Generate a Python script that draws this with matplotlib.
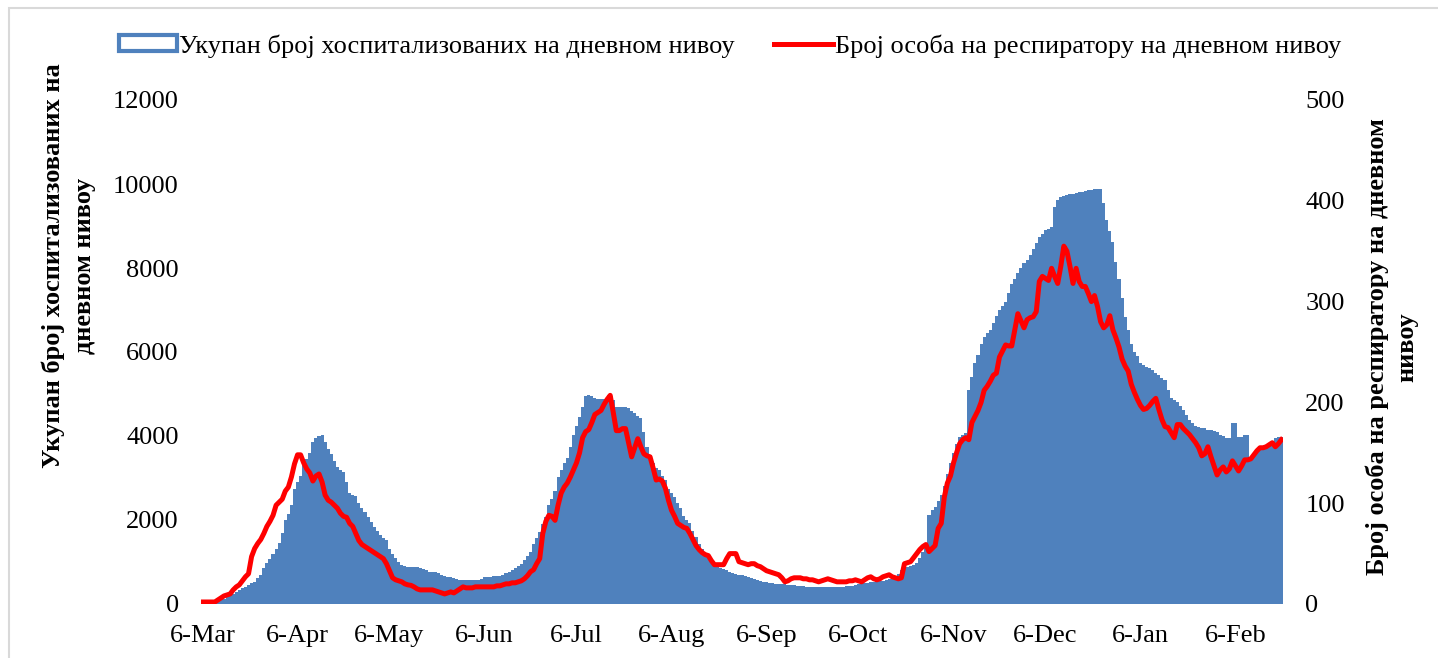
import pandas as pd
import matplotlib
matplotlib.use("Agg")
from matplotlib import pyplot as plt
from matplotlib.patches import Patch, Rectangle
from matplotlib.lines import Line2D

plt.rcParams['font.family'] = ['Liberation Serif', 'DejaVu Serif']

# daily values, first day 6-Mar-2020
hospitalized = [
    10, 15, 20, 30, 50, 70, 90, 130, 170, 210,
    250, 290, 330, 370, 410, 450, 490, 520, 620, 700,
    850, 970, 1080, 1200, 1300, 1450, 1700, 2000, 2150, 2350,
    2750, 2900, 3050, 3350, 3450, 3600, 3850, 3950, 4000, 4020,
    3850, 3700, 3580, 3400, 3270, 3200, 3150, 2900, 2640, 2600,
    2560, 2400, 2280, 2180, 2080, 1950, 1840, 1740, 1640, 1580,
    1520, 1300, 1200, 1100, 1000, 930, 900, 890, 890, 880,
    880, 860, 840, 800, 770, 760, 755, 740, 700, 660,
    650, 640, 620, 600, 580, 575, 570, 565, 570, 570,
    575, 600, 640, 650, 650, 655, 660, 670, 700, 730,
    760, 800, 850, 900, 960, 1050, 1150, 1250, 1420, 1560,
    1720, 1900, 2080, 2350, 2500, 2680, 3030, 3200, 3350, 3470,
    3750, 4030, 4250, 4450, 4700, 4960, 4980, 4950, 4900, 4890,
    4880, 4870, 4880, 4860, 4850, 4700, 4690, 4690, 4680, 4660,
    4600, 4540, 4480, 4420, 4100, 3750, 3500, 3350, 3250, 3190,
    3050, 2950, 2750, 2650, 2550, 2400, 2280, 2100, 2000, 1920,
    1750, 1600, 1420, 1300, 1200, 1100, 1000, 940, 880, 860,
    830, 800, 770, 740, 710, 690, 680, 660, 640, 620,
    590, 560, 550, 530, 515, 505, 495, 485, 475, 470,
    465, 460, 455, 450, 440, 430, 420, 410, 400, 395,
    395, 395, 395, 395, 397, 398, 400, 405, 410, 415,
    420, 430, 440, 450, 465, 480, 495, 505, 515, 525,
    540, 550, 555, 575, 600, 625, 650, 720, 800, 850,
    880, 910, 940, 970, 1100, 1250, 1370, 2120, 2240, 2300,
    2450, 2600, 2800, 3100, 3350, 3600, 3800, 3980, 4030, 4060,
    5100, 5400, 5730, 5930, 6200, 6360, 6450, 6520, 6700, 6850,
    7000, 7100, 7200, 7400, 7630, 7750, 7870, 8000, 8110, 8200,
    8310, 8460, 8600, 8740, 8820, 8900, 8930, 8980, 9460, 9620,
    9680, 9720, 9740, 9760, 9770, 9780, 9800, 9820, 9840, 9850,
    9860, 9870, 9870, 9870, 9540, 9140, 8870, 8630, 8150, 7750,
    7280, 6840, 6520, 6200, 6000, 5900, 5730, 5690, 5650, 5610,
    5570, 5510, 5450, 5390, 5330, 5100, 4900, 4860, 4820, 4720,
    4620, 4500, 4380, 4300, 4240, 4220, 4200, 4180, 4150, 4140,
    4120, 4100, 4030, 4000, 3950, 3950, 4300, 4300, 3980, 3980,
    4020, 4020, 3480, 3550, 3650, 3700, 3740, 3750, 3780, 3820,
    3950, 3980, 3980,
]

respirator = [
    2, 2, 2, 2, 2, 4, 6, 8, 9, 10,
    14, 17, 19, 23, 27, 30, 47, 55, 60, 64,
    70, 77, 82, 88, 98, 101, 104, 112, 116, 126,
    139, 148, 148, 140, 134, 130, 122, 127, 129, 121,
    108, 103, 101, 98, 95, 90, 87, 86, 80, 77,
    70, 63, 59, 57, 55, 53, 51, 49, 47, 45,
    40, 33, 26, 24, 23, 22, 20, 19, 18.5, 17,
    15, 14, 14, 14, 14, 14, 13, 12, 11, 10,
    11, 12, 11, 13, 15, 17, 16, 16, 16, 17,
    17, 17, 17, 17, 17, 17, 18, 18, 19, 20,
    20, 21, 21, 22, 23, 25, 28, 32, 34, 40,
    45, 70, 82, 88, 87, 83, 98, 110, 116, 120,
    126, 133, 140, 150, 165, 171, 173, 180, 188, 190,
    192, 198, 203, 207, 190, 172, 172, 174, 174, 160,
    146, 155, 164, 156, 149, 147, 146, 135, 123, 124,
    122, 115, 103, 93, 87, 80, 78, 76, 75, 70,
    64, 58, 54, 51, 49, 48, 43, 39, 39, 39,
    39, 45, 50, 50, 50, 42, 41, 40, 39, 40,
    40, 38, 37, 35, 33, 32, 31, 30, 29, 26,
    22, 23, 25, 26, 26, 26, 25, 25, 24, 24,
    23, 22, 23, 24, 25, 24, 23, 22, 22, 22,
    22, 23, 23, 24, 23, 22, 24, 26, 27, 25,
    24, 25, 27, 28, 29, 27, 26, 25, 26, 40,
    41, 42, 46, 50, 54, 57, 59, 52, 55, 58,
    75, 80, 106, 120, 127, 140, 150, 159, 163, 165,
    163, 180, 186, 192, 200, 212, 216, 221, 227, 229,
    245, 251, 257, 256, 256, 272, 288, 281, 274, 282,
    284, 285, 290, 320, 325, 323, 321, 333, 325, 318,
    335, 355, 350, 335, 318, 333, 320, 315, 315, 308,
    300, 306, 295, 280, 274, 277, 286, 272, 264, 255,
    243, 236, 231, 218, 210, 203, 197, 193, 194, 197,
    201, 204, 193, 183, 176, 175, 170, 165, 178, 178,
    174, 171, 168, 164, 160, 155, 147, 149, 156, 146,
    137, 128, 133, 136, 131, 134, 142, 137, 132, 137,
    143, 143, 144, 148, 152, 155, 155, 156, 158, 160,
    156, 159, 163,
]

month_labels = ["6-Mar", "6-Apr", "6-May", "6-Jun", "6-Jul", "6-Aug",
                "6-Sep", "6-Oct", "6-Nov", "6-Dec", "6-Jan", "6-Feb"]
left_ticks = [0, 2000, 4000, 6000, 8000, 10000, 12000]
right_ticks = [0, 100, 200, 300, 400, 500]

label_bars = "Укупан број хоспитализованих на дневном нивоу"
label_line = "Број особа на респиратору на дневном нивоу"

dates = pd.date_range("2020-03-06", periods=len(hospitalized), freq="D")
tick_dates = pd.date_range("2020-03-06", periods=len(month_labels),
                           freq=pd.DateOffset(months=1))

BLUE = "#4F81BD"
FS = 19

W, H = 1438, 658
fig = plt.figure(figsize=(W / 100, H / 100), dpi=100)
ax = fig.add_axes([201 / W, 54 / H, 1082 / W, 504 / H])
ax2 = ax.twinx()

# no antialiasing so neighbouring daily bars join without seams
ax.bar(dates, hospitalized, width=1.0, color=BLUE, linewidth=0, antialiased=False)
ax2.plot(dates, respirator, color="#FF0000", lw=3.6, solid_joinstyle="round")

ax.set_xlim(dates[0] - pd.Timedelta(hours=12), dates[-1] + pd.Timedelta(hours=12))
ax.set_ylim(0, 12000)
ax2.set_ylim(0, 500)
ax.set_xticks(tick_dates)
ax.set_xticklabels(month_labels)
ax.set_yticks(left_ticks)
ax.set_yticklabels([str(v) for v in left_ticks])
ax2.set_yticks(right_ticks)
ax2.set_yticklabels([str(v) for v in right_ticks])

ax.tick_params(axis="x", length=0, pad=15, labelsize=FS)
ax.tick_params(axis="y", length=0, pad=16, labelsize=FS)
ax2.tick_params(axis="y", length=0, pad=16, labelsize=FS)
for a in (ax, ax2):
    for s in a.spines.values():
        s.set_visible(False)

fig.text(69 / W, 1 - 266 / H, "Укупан број хоспитализованих на\nдневном нивоу",
         rotation=90, ha="center", va="center", multialignment="center",
         fontsize=FS, fontweight="bold", linespacing=1.45)
fig.text(1392 / W, 1 - 347 / H, "Број особа на респиратору на дневном\nнивоу",
         rotation=90, ha="center", va="center", multialignment="center",
         fontsize=FS, fontweight="bold", linespacing=1.33)

handles = [Patch(facecolor="white", edgecolor=BLUE, linewidth=3),
           Line2D([], [], color="#FF0000", lw=3.6)]
fig.legend(handles, [label_bars, label_line], loc="center",
           bbox_to_anchor=(730 / W, 1 - 46 / H), ncol=2, frameon=False,
           fontsize=FS, handlelength=2.2, handleheight=0.55,
           handletextpad=0.1, columnspacing=1.5)

# light chart-area border (right and bottom edges lie outside the image)
fig.patches.append(Rectangle((8.5 / W, -0.1), 1.2, 1.1 - 8 / H,
                             transform=fig.transFigure, fill=False,
                             edgecolor="#D9D9D9", linewidth=1.5))

fig.savefig("out.png", dpi=100)
